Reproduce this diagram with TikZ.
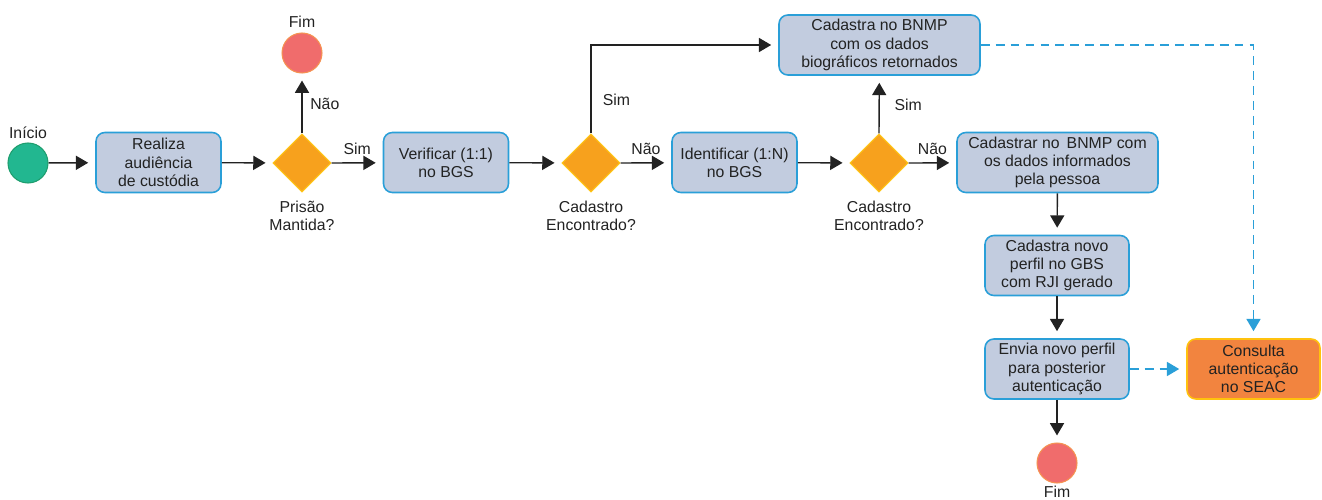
\documentclass[tikz,border=0pt]{standalone}
\usepackage{fontspec}
\setmainfont{Liberation Sans}
\usepackage{tikz}
\usetikzlibrary{shapes.geometric,arrows.meta}

\definecolor{boxfill}{HTML}{C2CCDF}
\definecolor{boxline}{HTML}{2A9FD8}
\definecolor{decfill}{HTML}{F7A11D}
\definecolor{decline}{HTML}{FFC516}
\definecolor{startfill}{HTML}{22B790}
\definecolor{startline}{HTML}{1E9E6E}
\definecolor{endfill}{HTML}{F06C6C}
\definecolor{endline}{HTML}{F59352}
\definecolor{seacfill}{HTML}{F2843F}
\definecolor{seacline}{HTML}{FFC20E}
\definecolor{ink}{HTML}{222222}

\tikzset{
  txt/.style={font=\fontsize{9}{10.4}\selectfont, text=ink, align=center},
  task/.style={txt, rectangle, rounded corners=5pt, draw=boxline, fill=boxfill, line width=0.9pt,
    minimum width=2.5cm, minimum height=1.2cm, inner sep=1pt},
  widetask/.style={task, minimum width=4.02cm},
  decision/.style={diamond, draw=decline, fill=decfill, line width=0.6pt, inner sep=0pt,
    minimum width=1.16cm, minimum height=1.16cm},
  startev/.style={circle, draw=startline, fill=startfill, line width=0.6pt, minimum size=0.8cm, inner sep=0pt},
  endev/.style={circle, draw=endline, fill=endfill, line width=0.6pt, minimum size=0.8cm, inner sep=0pt},
  flow/.style={draw=ink, line width=0.8pt, -{Triangle[length=7pt,width=8pt]}, shorten >=4pt},
  msg/.style={draw=boxline, line width=0.9pt, dash pattern=on 5pt off 3.5pt, -{Triangle[length=7pt,width=8pt]}, shorten >=4pt}
}

\begin{document}
\begin{tikzpicture}[x=0.02cm,y=-0.02cm]
\useasboundingbox (0,0) rectangle (1322,500);

% eventos
\node[startev] (inicio) at (28,163) {};
\node[txt] at (28,133) {Início};
\node[endev] (fim1) at (302,53) {};
\node[txt] at (302,22) {Fim};
\node[endev] (fim2) at (1057,463) {};
\node[txt] at (1057,492) {Fim};

% tarefas
\node[task] (audiencia) at (158.5,162.5) {Realiza\\audiência\\de custódia};
\node[task] (verificar) at (446,162.5) {Verificar (1:1)\\no BGS};
\node[task] (identificar) at (734.5,162.5) {Identificar (1:N)\\no BGS};
\node[widetask] (retornados) at (879.5,45) {Cadastra no BNMP\\com os dados\\biográficos retornados};
\node[widetask] (informados) at (1057.5,162.5) {Cadastrar no\ \,BNMP com\\os dados informados\\pela pessoa};
\node[task, minimum width=2.88cm] (perfil) at (1057,265.5) {Cadastra novo\\perfil no GBS\\com RJI gerado};
\node[task, minimum width=2.88cm] (envia) at (1057,369) {Envia novo perfil\\para posterior\\autenticação};
\node[task, draw=seacline, fill=seacfill, minimum width=2.66cm] (seac) at (1253.5,369) {Consulta\\autenticação\\no SEAC};

% decisoes
\node[decision] (prisao) at (302,163) {};
\node[txt] at (302,216) {Prisão\\Mantida?};
\node[decision] (achou1) at (591,163) {};
\node[txt] at (591,216) {Cadastro\\Encontrado?};
\node[decision] (achou2) at (879,163) {};
\node[txt] at (879,216) {Cadastro\\Encontrado?};

% fluxo
\draw[flow] (inicio) -- (audiencia);
\draw[flow] (audiencia) -- (prisao);
\draw[flow] (prisao.north) -- (fim1) node[txt, pos=0.5, right=1pt] {Não};
\draw[flow] (prisao.east) -- (verificar) node[txt, midway, above=1pt] {Sim};
\draw[flow] (verificar) -- (achou1);
\draw[flow] (achou1.east) -- (identificar) node[txt, midway, above=1pt] {Não};
\draw[flow] (achou1.north) |- (retornados) node[txt, pos=0.19, right=3pt] {Sim};
\draw[flow] (identificar) -- (achou2);
\draw[flow] (achou2.north) -- (retornados) node[txt, pos=0.5, right=5pt] {Sim};
\draw[flow] (achou2.east) -- (informados) node[txt, midway, above=1pt] {Não};
\draw[flow] (informados) -- (perfil);
\draw[flow] (perfil) -- (envia);
\draw[flow] (envia) -- (fim2);
\draw[msg] (envia) -- (seac);
\draw[msg] (retornados.east) -| (seac.north);
\end{tikzpicture}
\end{document}
